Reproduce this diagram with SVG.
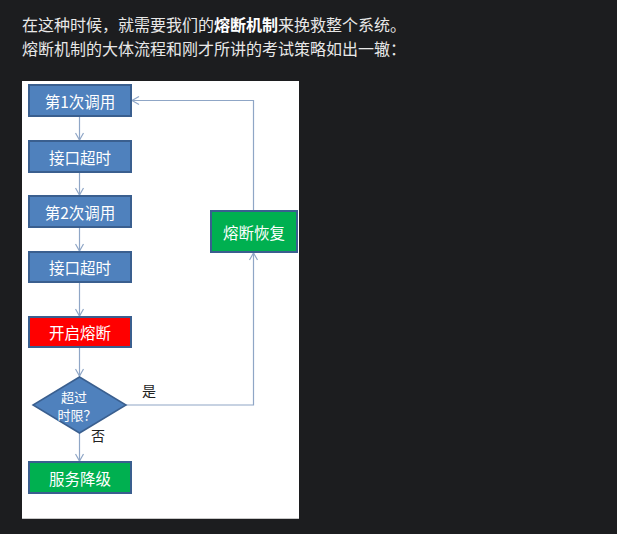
<svg xmlns="http://www.w3.org/2000/svg" width="617" height="534" viewBox="0 0 617 534">
<defs>
<style>
.hd{font-family:"Noto Sans CJK SC","Noto Sans",sans-serif;font-size:16px;fill:#e8e8e8}
.b{font-weight:bold;fill:#ffffff}
.box{stroke:#3a5f8f;stroke-width:2}
.bt{font-family:"Noto Sans CJK SC","Noto Sans",sans-serif;font-size:15.5px;fill:#ffffff;text-anchor:middle;dominant-baseline:central}
.dt{font-family:"Noto Sans CJK SC","Noto Sans",sans-serif;font-size:13px;fill:#ffffff;text-anchor:middle;dominant-baseline:central}
.lb{font-family:"Noto Sans CJK SC","Noto Sans",sans-serif;font-size:14px;fill:#222222;text-anchor:middle;dominant-baseline:central}
.ln{fill:none;stroke:#8fa6c6;stroke-width:1.2}
</style>
<marker id="ar" markerWidth="10" markerHeight="10" refX="8" refY="5" orient="auto" markerUnits="userSpaceOnUse">
<path d="M1,1 L8,5 L1,9" fill="none" stroke="#8fa6c6" stroke-width="1.2"/>
</marker>
</defs>
<rect width="617" height="534" fill="#1c1d1f"/>
<text class="hd" x="22" y="31">在这种时候，就需要我们的<tspan class="b">熔断机制</tspan>来挽救整个系统。</text>
<text class="hd" x="22" y="55">熔断机制的大体流程和刚才所讲的考试策略如出一辙：</text>
<rect x="22" y="81" width="277" height="438" fill="#ffffff"/>
<line x1="22" y1="518.5" x2="299" y2="518.5" stroke="#c8c8c8" stroke-width="1"/>
<g id="connectors">
<line class="ln" x1="79.5" y1="116" x2="79.5" y2="140" marker-end="url(#ar)"/>
<line class="ln" x1="79.5" y1="172" x2="79.5" y2="195" marker-end="url(#ar)"/>
<line class="ln" x1="79.5" y1="227" x2="79.5" y2="251" marker-end="url(#ar)"/>
<line class="ln" x1="79.5" y1="282" x2="79.5" y2="316" marker-end="url(#ar)"/>
<line class="ln" x1="79.5" y1="347" x2="79.5" y2="376" marker-end="url(#ar)"/>
<line class="ln" x1="79.5" y1="433" x2="79.5" y2="461" marker-end="url(#ar)"/>
<polyline class="ln" points="126,405 253.5,405 253.5,253" marker-end="url(#ar)"/>
<polyline class="ln" points="253.5,211 253.5,100.5 132,100.5" marker-end="url(#ar)"/>
</g>
<g id="call1"><rect class="box" x="29" y="85" width="102" height="31" fill="#4f81bd"/><text class="bt" x="80" y="100.5">第1次调用</text></g>
<g id="timeout1"><rect class="box" x="29" y="141" width="102" height="31" fill="#4f81bd"/><text class="bt" x="80" y="156.5">接口超时</text></g>
<g id="call2"><rect class="box" x="29" y="196" width="102" height="31" fill="#4f81bd"/><text class="bt" x="80" y="211.5">第2次调用</text></g>
<g id="timeout2"><rect class="box" x="29" y="252" width="102" height="30" fill="#4f81bd"/><text class="bt" x="80" y="267">接口超时</text></g>
<g id="open"><rect class="box" x="29" y="317" width="102" height="30" fill="#ff0000"/><text class="bt" x="80" y="332">开启熔断</text></g>
<g id="decision"><polygon points="79.5,377 126,405 79.5,433 33,405" fill="#4f81bd" stroke="#3a5f8f" stroke-width="1.5"/><text class="dt" x="74" y="396">超过</text><text class="dt" x="77" y="414">时限？</text></g>
<g id="degrade"><rect class="box" x="29" y="462" width="102" height="31" fill="#00b050"/><text class="bt" x="80" y="477.5">服务降级</text></g>
<g id="recover"><rect class="box" x="211" y="211" width="86" height="41" fill="#00b050"/><text class="bt" x="254" y="231.5">熔断恢复</text></g>
<text class="lb" x="149" y="390">是</text>
<text class="lb" x="98" y="435">否</text>
</svg>
